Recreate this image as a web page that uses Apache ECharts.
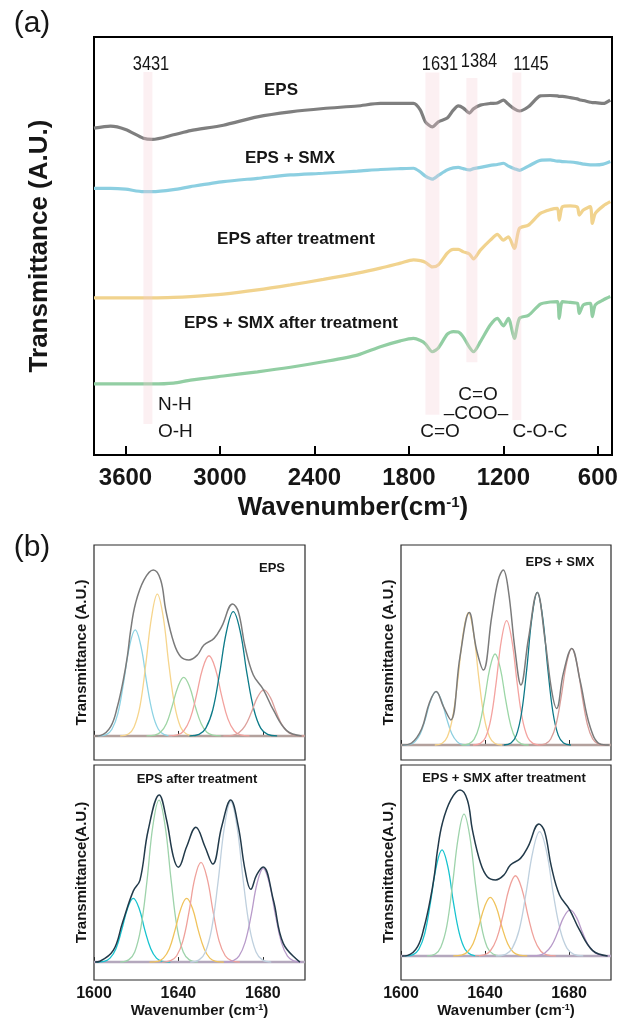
<!doctype html>
<html lang="en">
<head>
<meta charset="UTF-8">
<title>FTIR spectra of EPS</title>
<style>
  html, body { margin: 0; padding: 0; background: #fff; }
  #main { width: 621px; height: 1019px; }
</style>
</head>
<body>
<div id="main"></div>
<script src="https://cdn.jsdelivr.net/npm/echarts/dist/echarts.min.js"></script>
<script>
// ---- (a) FTIR spectra, offset for display (A.U.) ----
var wavenumber = [3800, 3695, 3600, 3486, 3429, 3295, 3187, 2978, 2762, 2552, 2343, 2127, 1981, 1854, 1771,
  1727, 1695, 1651, 1613, 1556, 1518, 1486, 1454, 1416, 1390, 1346, 1283, 1238, 1200, 1168,
  1130, 1098, 1041, 965, 902, 857, 845, 825, 775, 730, 718, 692, 648, 635, 616, 565, 521];
var epsT = [78.2, 78.7, 77.9, 75.8, 75.5, 76.6, 77.6, 78.9, 80.9, 82.1, 82.9, 83.5, 84.1, 84.1, 84.1,
  82.5, 79.7, 78.5, 79.7, 80.6, 82.5, 83.5, 83.0, 81.8, 82.8, 83.7, 84.1, 84.2, 84.9, 83.9,
  82.8, 82.3, 83.3, 85.9, 86.0, 85.9, 85.8, 85.8, 85.5, 85.2, 85.0, 84.8, 84.4, 84.3, 84.3, 84.1, 84.9];
var epsSmxT = [63.8, 63.8, 63.6, 63.0, 63.0, 63.5, 64.2, 65.4, 66.2, 67.0, 67.4, 67.9, 68.3, 68.5, 68.6,
  67.7, 66.7, 66.0, 66.9, 68.2, 68.7, 68.8, 68.5, 68.2, 68.5, 68.8, 69.3, 69.5, 69.8, 69.1,
  68.5, 68.1, 69.1, 70.5, 70.6, 70.3, 70.3, 70.2, 70.1, 69.9, 69.8, 69.6, 69.4, 69.4, 69.4, 69.6, 70.2];
var epsTreatedT = [37.6, 37.6, 37.6, 37.6, 37.6, 37.7, 37.9, 38.5, 39.5, 40.7, 42.0, 43.5, 44.7, 45.9, 46.7,
  46.5, 46.1, 45.0, 45.5, 48.3, 49.2, 49.2, 48.6, 48.1, 46.9, 49.0, 51.4, 52.8, 51.4, 52.2,
  49.4, 54.2, 55.0, 57.8, 58.7, 59.0, 56.2, 59.4, 59.6, 59.3, 57.4, 58.6, 59.4, 55.4, 57.8, 59.6, 60.6];
var epsSmxTreatedT = [17.0, 17.0, 17.0, 17.0, 17.0, 17.2, 17.9, 18.9, 19.9, 21.0, 22.3, 23.9, 25.9, 27.3, 27.9,
  27.4, 26.6, 24.7, 25.6, 28.9, 29.5, 29.4, 28.2, 25.8, 24.7, 27.1, 31.1, 32.7, 30.9, 32.7,
  27.9, 32.7, 33.4, 36.1, 36.6, 36.7, 32.7, 36.7, 36.5, 36.3, 33.9, 35.9, 36.3, 33.1, 35.9, 37.1, 37.9];
var xTicksA = [600, 1200, 1800, 2400, 3000, 3600];
var xTicksB = [1600, 1640, 1680];
var peakLabels = ['3431', '1631', '1384', '1145'];
// highlighted bands (wavenumber from, to, transmittance top, bottom)
var bandRanges = [[3486, 3429, 91.6, 7.4], [1695, 1606, 91.5, 9.6], [1435, 1365, 90.2, 22.2], [1143, 1086, 91.5, 8.4]];

// ---- (b) amide I deconvolution, 1600-1700 cm-1, [wavenumber, intensity] ----
var fitEPS = [
  [[1601.9,0],[1605.8,0.7],[1608.5,3.5],[1611.3,11.7],[1614,27.8],[1616.8,46.8],[1619.5,55.6],[1622.3,46.8],[1625,27.8],[1627.8,11.7],[1630.5,3.5],[1633.3,0.7],[1637.1,0]],
  [[1612.4,0],[1616.3,1],[1619,4.7],[1621.8,15.6],[1624.5,37.2],[1627.3,62.4],[1630,74.3],[1632.8,62.4],[1635.5,37.2],[1638.3,15.6],[1641,4.7],[1643.8,1],[1647.6,0]],
  [[1624.9,0],[1628.8,0.4],[1631.5,1.9],[1634.3,6.4],[1637,15.4],[1639.8,25.8],[1642.5,30.7],[1645.3,25.8],[1648,15.4],[1650.8,6.4],[1653.5,1.9],[1656.3,0.4],[1660.1,0]],
  [[1635.3,0],[1639.5,0.5],[1642.5,2.6],[1645.5,8.8],[1648.5,21],[1651.5,35.3],[1654.5,42],[1657.5,35.3],[1660.5,21],[1663.5,8.8],[1666.5,2.6],[1669.5,0.5],[1673.7,0]],
  [[1645.2,0],[1649.8,0.8],[1653,4.1],[1656.3,13.7],[1659.5,32.6],[1662.8,54.7],[1666,65.1],[1669.3,54.7],[1672.5,32.6],[1675.8,13.7],[1679,4.1],[1682.3,0.8],[1686.8,0]],
  [[1661.3,0],[1665.5,0.3],[1668.5,1.5],[1671.5,5.1],[1674.5,12.1],[1677.5,20.3],[1680.5,24.1],[1683.5,20.3],[1686.5,12.1],[1689.5,5.1],[1692.5,1.5],[1695.5,0.3],[1699.7,0]]
];
var envEPS = [[1600.5,0],[1603.2,0.3],[1607.9,4.9],[1611.1,15.4],[1613.9,29.3],[1615.8,41.5],[1617.4,55.5],[1619.7,69.5],
  [1623.7,81.7],[1628.1,86.9],[1631.6,81.7],[1634,66],[1637.9,48.5],[1641.1,41.5],[1645,39.8],[1649,42.4],[1652.1,47.6],
  [1656.9,51.1],[1660.5,57.2],[1665.7,69.1],[1668.4,65.1],[1671.6,46.8],[1675.5,31.9],[1680.2,24.4],[1685,13.6],[1691.3,2.8],[1698.4,0]];

var fitEPSSMX = [
  [[1600.7,0],[1604.2,0.3],[1606.7,1.7],[1609.2,5.6],[1611.7,13.4],[1614.2,22.5],[1616.7,26.7],[1619.2,22.5],[1621.7,13.4],[1624.2,5.6],[1626.7,1.7],[1629.2,0.3],[1632.7,0]],
  [[1616.1,0],[1619.6,0.9],[1622.1,4.1],[1624.6,13.9],[1627.1,33.1],[1629.6,55.7],[1632.1,66.2],[1634.6,55.7],[1637.1,33.1],[1639.6,13.9],[1642.1,4.1],[1644.6,0.9],[1648.1,0]],
  [[1628.8,0],[1632.3,0.6],[1634.8,2.8],[1637.3,9.6],[1639.8,22.8],[1642.3,38.3],[1644.8,45.5],[1647.3,38.3],[1649.8,22.8],[1652.3,9.6],[1654.8,2.8],[1657.3,0.6],[1660.8,0]],
  [[1634.3,0],[1637.8,0.8],[1640.3,3.9],[1642.8,13.1],[1645.3,31.1],[1647.8,52.3],[1650.3,62.2],[1652.8,52.3],[1655.3,31.1],[1657.8,13.1],[1660.3,3.9],[1662.8,0.8],[1666.3,0]],
  [[1648.9,0],[1652.4,1],[1654.9,4.8],[1657.4,16],[1659.9,38.2],[1662.4,64.2],[1664.9,76.3],[1667.4,64.2],[1669.9,38.2],[1672.4,16],[1674.9,4.8],[1677.4,1],[1680.9,0]],
  [[1665.3,0],[1668.8,0.6],[1671.3,3],[1673.8,10.1],[1676.3,24.2],[1678.8,40.6],[1681.3,48.3],[1683.8,40.6],[1686.3,24.2],[1688.8,10.1],[1691.3,3],[1693.8,0.6],[1697.3,0]]
];
var envEPSSMX = [[1600.5,0],[1605,1],[1609.8,8],[1613.5,21],[1616.7,26.7],[1620.2,19.2],[1623.7,12.5],[1628.1,44.2],
  [1632.5,66.2],[1636,47.5],[1639.2,37.5],[1643.2,64.2],[1646.3,82.5],[1648.7,87.5],[1651.1,77.5],[1654.3,47.5],[1657.1,30],
  [1660.6,52.5],[1664.9,76.3],[1668.6,52.5],[1671.7,27.5],[1674.1,18.3],[1677.3,35.8],[1681.3,48.3],[1685.2,32.5],[1690,9.2],
  [1694.8,0.5],[1699,0]];

var fitEPSTreated = [
  [[1601,0],[1604.9,0.4],[1607.6,2],[1610.4,6.8],[1613.1,16.2],[1615.9,27.2],[1618.6,32.3],[1621.4,27.2],[1624.1,16.2],[1626.9,6.8],[1629.6,2],[1632.4,0.4],[1636.2,0]],
  [[1612.4,0],[1616.4,1.1],[1619.3,5.1],[1622.2,17.3],[1625.1,41.1],[1627.9,69.1],[1630.8,82.2],[1633.7,69.1],[1636.6,41.1],[1639.4,17.3],[1642.3,5.1],[1645.2,1.1],[1649.2,0]],
  [[1626.3,0],[1630.2,0.4],[1632.9,2],[1635.7,6.8],[1638.4,16.2],[1641.2,27.2],[1643.9,32.3],[1646.7,27.2],[1649.4,16.2],[1652.2,6.8],[1654.9,2],[1657.7,0.4],[1661.5,0]],
  [[1632.3,0],[1636.3,0.7],[1639.2,3.2],[1642.1,10.6],[1645,25.3],[1647.8,42.6],[1650.7,50.6],[1653.6,42.6],[1656.5,25.3],[1659.3,10.6],[1662.2,3.2],[1665.1,0.7],[1669.1,0]],
  [[1645.6,0],[1649.8,1.1],[1652.8,5.1],[1655.8,17.1],[1658.8,40.7],[1661.8,68.5],[1664.8,81.4],[1667.8,68.5],[1670.8,40.7],[1673.8,17.1],[1676.8,5.1],[1679.8,1.1],[1684,0]],
  [[1661.8,0],[1665.8,0.6],[1668.7,3],[1671.6,10],[1674.5,23.8],[1677.3,40],[1680.2,47.6],[1683.1,40],[1686,23.8],[1688.8,10],[1691.7,3],[1694.6,0.6],[1698.6,0]]
];
var envEPSTreated = [[1600.5,0],[1602.8,0.4],[1609.2,6],[1613.5,20],[1618.6,36],[1621.8,41.6],[1625.7,67],[1630.9,84.8],
  [1634.4,72.1],[1637.6,53.5],[1640,48.1],[1643.9,58.5],[1648.3,68.4],[1652.6,58.5],[1656.3,49.7],[1660.5,68.7],[1664.8,82.2],
  [1668.4,68.7],[1671.6,46.7],[1674.3,36.9],[1677.1,44.2],[1680.2,48.2],[1685,31.5],[1689.7,9.5],[1697.6,0]];

// EPS + SMX after treatment read the same as EPS
var fitEPSSMXTreated = fitEPS;
var envEPSSMXTreated = envEPS;

var FONT = '"Liberation Sans", Arial, sans-serif';
var INK = '#161616';

var myChart = echarts.init(document.getElementById('main'));

function curve(idx, data, color, width, z, smooth) {
  return {
    type: 'line', xAxisIndex: idx, yAxisIndex: idx, data: data,
    symbol: 'none', smooth: smooth, silent: true, z: z,
    lineStyle: { color: color, width: width }, itemStyle: { color: color }
  };
}

function txt(x, y, text, size, bold, align, sx) {
  var a = align || 'center';
  return {
    type: 'text', x: x, y: y, scaleX: sx || 1, silent: true, z: 100,
    style: {
      text: text, fill: INK, fontSize: size, fontWeight: bold ? 'bold' : 'normal', fontFamily: FONT,
      align: a, textAlign: a, verticalAlign: 'middle', textVerticalAlign: 'middle'
    }
  };
}

function plain(v) { return String(v); }

var grids = [{ left: 94, top: 37, width: 518, height: 418, show: true, borderColor: '#000', borderWidth: 2, outerBoundsMode: 'none' }];
var xAxes = [{
  gridIndex: 0, type: 'value', inverse: true, min: 510, max: 3800,
  axisLine: { show: false }, splitLine: { show: false },
  axisTick: { inside: true, length: 9, customValues: xTicksA, lineStyle: { color: '#000', width: 2 } },
  axisLabel: { customValues: xTicksA, formatter: plain, margin: 11, fontSize: 24, fontWeight: 'bold', fontFamily: FONT, color: INK },
  name: 'Wavenumber(cm{sup|-1})', nameLocation: 'middle', nameGap: 40,
  nameTextStyle: { fontSize: 26, fontWeight: 'bold', fontFamily: FONT, color: INK,
    rich: { sup: { fontSize: 15, fontWeight: 'bold', fontFamily: FONT, color: INK, verticalAlign: 'top' } } }
}];
var yAxes = [{
  gridIndex: 0, type: 'value', min: 0, max: 100,
  axisLine: { show: false }, axisTick: { show: false }, axisLabel: { show: false }, splitLine: { show: false },
  name: 'Transmittance (A.U.)', nameLocation: 'middle', nameGap: 41,
  nameTextStyle: { fontSize: 26, fontWeight: 'bold', fontFamily: FONT, color: INK }
}];

var series = [];
var spectra = [[epsT, '#7f7f7f'], [epsSmxT, '#8ccfe1'], [epsTreatedT, '#f1d38e'], [epsSmxTreatedT, '#92cea3']];
spectra.forEach(function (s) {
  series.push(curve(0, wavenumber.map(function (w, i) { return [w, s[0][i]]; }), s[1], 3.2, 2, 0.25));
});
series.push({
  type: 'line', xAxisIndex: 0, yAxisIndex: 0, data: [], silent: true,
  markArea: {
    silent: true, z: 6,
    itemStyle: { color: 'rgba(245,205,212,0.3)' },
    data: bandRanges.map(function (b) { return [{ xAxis: b[0], yAxis: b[2] }, { xAxis: b[1], yAxis: b[3] }]; })
  }
});

// (b) panels
var panels = [
  { title: 'EPS', fit: fitEPS, env: envEPS, yName: 'Transmittance (A.U.)', envColor: '#7b7b7b', base: '#b3a19d',
    colors: ['#8dd3e4', '#f6d58d', '#9fd5a5', '#f2a29e', '#0d7b89', '#dda19d'] },
  { title: 'EPS + SMX', fit: fitEPSSMX, env: envEPSSMX, yName: 'Transmittance (A.U.)', envColor: '#7b7b7b', base: '#b3a19d',
    colors: ['#8dcfe0', '#f6d38a', '#9bd6a6', '#f4a3a0', '#0c7887', '#d89d99'] },
  { title: 'EPS after treatment', fit: fitEPSTreated, env: envEPSTreated, yName: 'Transmittance(A.U.)', envColor: '#223a4a', base: '#b4a8bd',
    colors: ['#17c3cf', '#9ed3ab', '#f0c35c', '#efa19b', '#bfd0de', '#b89bca'] },
  { title: 'EPS + SMX after treatment', fit: fitEPSSMXTreated, env: envEPSSMXTreated, yName: 'Transmittance(A.U.)', envColor: '#223a4a', base: '#b4a8bd',
    colors: ['#17c3cf', '#9ed3ab', '#f0c35c', '#efa19b', '#bfd0de', '#b89bca'] }
];
var boxes = [[94, 545, 211, 215], [401, 545, 210, 215], [94, 765, 211, 215], [401, 765, 210, 215]];
var yMins = [-12.6, -7.5, -9.1, -12.6];

panels.forEach(function (p, k) {
  var idx = k + 1, bottomRow = k >= 2, box = boxes[k];
  grids.push({ left: box[0], top: box[1], width: box[2], height: box[3], show: true,
    borderColor: '#2a2a2a', borderWidth: 1.2, outerBoundsMode: 'none' });
  xAxes.push({
    gridIndex: idx, type: 'value', min: 1600, max: 1700,
    axisLine: { show: false }, splitLine: { show: false },
    axisTick: { inside: true, length: 5, customValues: xTicksB, lineStyle: { color: '#2a2a2a', width: 1 } },
    axisLabel: { show: bottomRow, customValues: xTicksB, formatter: plain, margin: 6, fontSize: 16, fontWeight: 'bold', fontFamily: FONT, color: INK },
    name: bottomRow ? 'Wavenumber (cm{sup|-1})' : '', nameLocation: 'middle', nameGap: 21,
    nameTextStyle: { fontSize: 15, fontWeight: 'bold', fontFamily: FONT, color: INK,
      rich: { sup: { fontSize: 9, fontWeight: 'bold', fontFamily: FONT, color: INK, verticalAlign: 'top' } } }
  });
  yAxes.push({
    gridIndex: idx, type: 'value', min: yMins[k], max: 100,
    axisLine: { show: false }, axisTick: { show: false }, axisLabel: { show: false }, splitLine: { show: false },
    name: p.yName, nameLocation: 'middle', nameGap: 5,
    nameTextStyle: { fontSize: 15, fontWeight: 'bold', fontFamily: FONT, color: INK }
  });
  series.push(curve(idx, [[1600, 0], [1700, 0]], p.base, 2.5, 1, false));
  p.fit.forEach(function (c, j) { series.push(curve(idx, c, p.colors[j], 1.3, 2, 0.4)); });
  series.push(curve(idx, p.env, p.envColor, 1.5, 3, 0.4));
});

var graphics = [
  txt(32, 24, '(a)', 30, false), txt(32, 548, '(b)', 30, false),
  txt(151, 64, peakLabels[0], 20, false, 'center', 0.82), txt(440, 64, peakLabels[1], 20, false, 'center', 0.82),
  txt(479, 61, peakLabels[2], 20, false, 'center', 0.82), txt(531, 64, peakLabels[3], 20, false, 'center', 0.82),
  txt(281, 90, 'EPS', 17, true), txt(290, 158, 'EPS + SMX', 17, true),
  txt(296, 239, 'EPS after treatment', 17, true), txt(291, 323, 'EPS + SMX after treatment', 17, true),
  txt(158, 405, 'N-H', 19, false, 'left'), txt(158, 432, 'O-H', 19, false, 'left'),
  txt(478, 395, 'C=O', 19, false), txt(476, 414, '\u2013COO\u2013', 19, false),
  txt(440, 432, 'C=O', 19, false), txt(540, 432, 'C-O-C', 19, false),
  txt(272, 568, 'EPS', 13, true), txt(560, 562, 'EPS + SMX', 13, true),
  txt(197, 779, 'EPS after treatment', 13, true), txt(504, 778, 'EPS + SMX after treatment', 13, true)
];

myChart.setOption({
  animation: false,
  backgroundColor: '#fff',
  grid: grids,
  xAxis: xAxes,
  yAxis: yAxes,
  series: series,
  graphic: graphics
});
</script>
</body>
</html>
